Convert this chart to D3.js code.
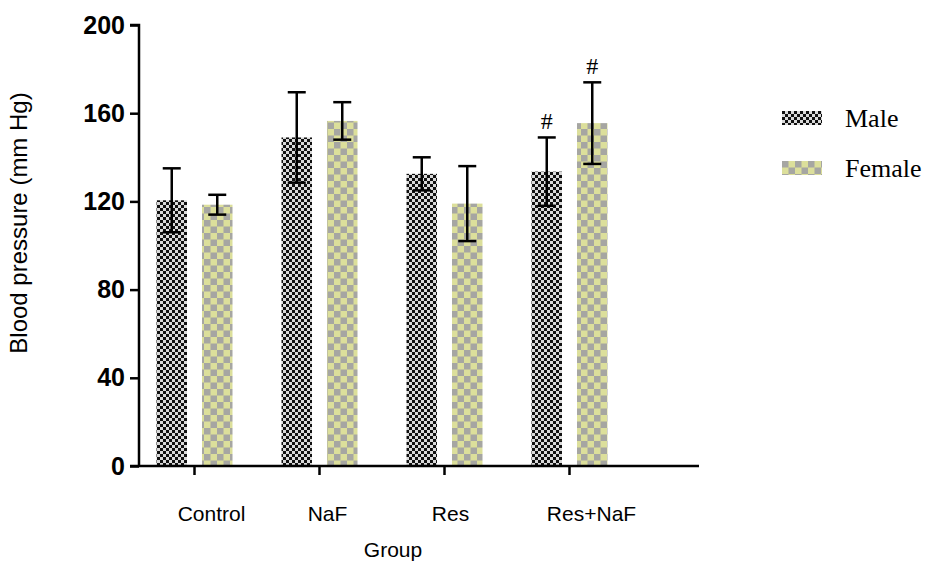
<!DOCTYPE html>
<html>
<head>
<meta charset="utf-8">
<script src="https://cdn.jsdelivr.net/npm/d3@7"></script>
<style>
  body { margin: 0; background: #fff; }
  svg { display: block; }
</style>
</head>
<body>
<div class="canvas"></div>
<script>
// data
const groups = ['Control', 'NaF', 'Res', 'Res+NaF'];
const series = ['Male', 'Female'];
const maleMean = [120.5, 149, 132.5, 133.5];
const maleSD = [14.5, 20.5, 7.5, 15.5];
const femaleMean = [118.5, 156.5, 119, 155.5];
const femaleSD = [4.5, 8.5, 17, 18.5];
const yTicks = [0, 40, 80, 120, 160, 200];
// "#" marks over the Res+NaF bars
const marks = [{ group: 'Res+NaF', series: 'Male' }, { group: 'Res+NaF', series: 'Female' }];

const data = [];
groups.forEach((g, i) => {
    data.push({ group: g, series: 'Male', mean: maleMean[i], sd: maleSD[i] });
    data.push({ group: g, series: 'Female', mean: femaleMean[i], sd: femaleSD[i] });
});

const width = 927, height = 562;
const margin = { top: 25, right: 228, bottom: 96, left: 139 };
const graphWidth = width - margin.left - margin.right;
const graphHeight = height - margin.top - margin.bottom;

const svg = d3.select('.canvas')
    .append('svg')
    .attr('width', width)
    .attr('height', height);

// fill patterns
const defs = svg.append('defs');
const male = defs.append('pattern')
    .attr('id', 'pat-male')
    .attr('patternUnits', 'userSpaceOnUse')
    .attr('width', 6).attr('height', 6);
male.append('rect').attr('width', 6).attr('height', 6).attr('fill', '#dadada');
male.append('rect').attr('width', 3).attr('height', 3).attr('fill', '#111');
male.append('rect').attr('x', 3).attr('y', 3).attr('width', 3).attr('height', 3).attr('fill', '#111');

const female = defs.append('pattern')
    .attr('id', 'pat-female')
    .attr('patternUnits', 'userSpaceOnUse')
    .attr('width', 13).attr('height', 13);
female.append('rect').attr('width', 13).attr('height', 13).attr('fill', '#dcdf9b');
female.append('rect').attr('width', 6.5).attr('height', 6.5).attr('fill', '#a6a6a2');
female.append('rect').attr('x', 6.5).attr('y', 6.5).attr('width', 6.5).attr('height', 6.5).attr('fill', '#a6a6a2');

const fills = { Male: 'url(#pat-male)', Female: 'url(#pat-female)' };

const graph = svg.append('g')
    .attr('transform', `translate(${margin.left}, ${margin.top})`);

// scales
const x0 = d3.scaleBand()
    .domain(groups)
    .range([-7, graphWidth - 67])
    .paddingInner(0)
    .paddingOuter(0);

const x1 = d3.scaleBand()
    .domain(series)
    .range([x0.bandwidth() / 2 - 38, x0.bandwidth() / 2 + 38])
    .paddingInner(0.33)
    .paddingOuter(0);

const y = d3.scaleLinear()
    .domain([0, 200])
    .range([graphHeight, 0]);

// bars
graph.selectAll('rect.bar')
    .data(data)
    .enter()
    .append('rect')
    .attr('class', 'bar')
    .attr('x', d => x0(d.group) + x1(d.series))
    .attr('y', d => y(d.mean))
    .attr('width', x1.bandwidth())
    .attr('height', d => y(0) - y(d.mean))
    .attr('fill', d => fills[d.series]);

// error bars
const err = graph.selectAll('g.err')
    .data(data)
    .enter()
    .append('g')
    .attr('class', 'err')
    .attr('transform', d => `translate(${x0(d.group) + x1(d.series) + x1.bandwidth() / 2}, 0)`)
    .attr('stroke', '#000')
    .attr('stroke-width', 2.5);

err.append('line')
    .attr('y1', d => y(d.mean - d.sd))
    .attr('y2', d => y(d.mean + d.sd));
err.append('line')
    .attr('x1', -9).attr('x2', 9)
    .attr('y1', d => y(d.mean + d.sd))
    .attr('y2', d => y(d.mean + d.sd));
err.append('line')
    .attr('x1', -9).attr('x2', 9)
    .attr('y1', d => y(d.mean - d.sd))
    .attr('y2', d => y(d.mean - d.sd));

// significance marks
graph.selectAll('text.mark')
    .data(marks)
    .enter()
    .append('text')
    .attr('class', 'mark')
    .attr('x', d => x0(d.group) + x1(d.series) + x1.bandwidth() / 2)
    .attr('y', d => {
        const row = data.find(r => r.group === d.group && r.series === d.series);
        return y(row.mean + row.sd) - 8;
    })
    .attr('text-anchor', 'middle')
    .attr('font-family', 'Liberation Serif, serif')
    .attr('font-size', '24px')
    .text('#');

// axes
const yAxis = d3.axisLeft(y)
    .tickValues(yTicks)
    .tickSize(9)
    .tickPadding(5);

const yAxisGroup = graph.append('g').call(yAxis);
yAxisGroup.select('.domain').attr('stroke-width', 2.5).attr('d', `M-9,${y(200)}H0V${y(0)}`);
yAxisGroup.selectAll('.tick line').attr('stroke-width', 2.5);
yAxisGroup.selectAll('text')
    .attr('font-family', 'Liberation Sans, Arial, sans-serif')
    .attr('font-weight', 'bold')
    .attr('font-size', '25px')
    .attr('fill', '#000');

const xAxis = d3.axisBottom(x0)
    .tickSize(9)
    .tickPadding(31);

const xAxisGroup = graph.append('g')
    .attr('transform', `translate(0, ${graphHeight})`)
    .call(xAxis);
xAxisGroup.select('.domain').attr('stroke-width', 2.5).attr('d', `M-9,0H${graphWidth}`);
xAxisGroup.selectAll('.tick line').attr('stroke-width', 2.5);
xAxisGroup.selectAll('text')
    .attr('font-family', 'Liberation Sans, Arial, sans-serif')
    .attr('font-size', '21px')
    .attr('fill', '#000')
    .attr('dx', (d, i) => [17, 8, 6, 22][i]);

// axis titles
svg.append('text')
    .attr('transform', 'translate(27, 223) rotate(-90)')
    .attr('text-anchor', 'middle')
    .attr('font-family', 'Liberation Sans, Arial, sans-serif')
    .attr('font-size', '24px')
    .text('Blood pressure (mm Hg)');

svg.append('text')
    .attr('x', 393)
    .attr('y', 557)
    .attr('text-anchor', 'middle')
    .attr('font-family', 'Liberation Sans, Arial, sans-serif')
    .attr('font-size', '21px')
    .text('Group');

// legend
const legend = svg.append('g')
    .attr('transform', 'translate(782, 111)');

const items = legend.selectAll('g')
    .data(series)
    .enter()
    .append('g')
    .attr('transform', (d, i) => `translate(0, ${i * 50})`);

items.append('rect')
    .attr('width', 40)
    .attr('height', 14)
    .attr('fill', d => fills[d]);

items.append('text')
    .attr('x', 63)
    .attr('y', 16)
    .attr('font-family', 'Liberation Serif, Times New Roman, serif')
    .attr('font-size', '26px')
    .text(d => d);
</script>
</body>
</html>
